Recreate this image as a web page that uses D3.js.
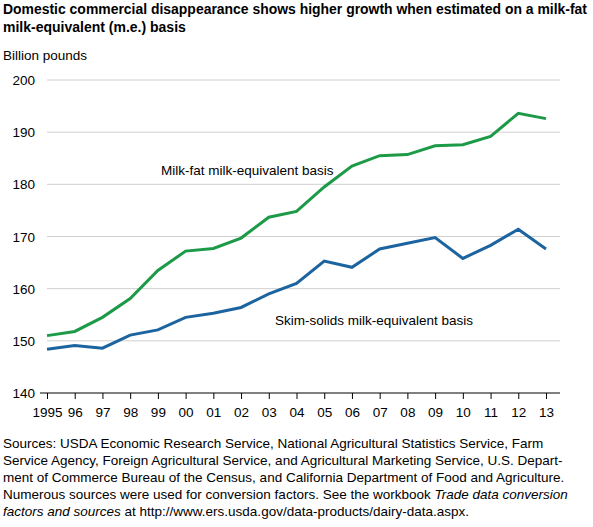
<!DOCTYPE html>
<html>
  <head>
    <meta charset="utf-8">
    <script src="https://d3js.org/d3.v7.min.js"></script>
    <style>
      body { margin: 0; font-family: Arial, "Liberation Sans", sans-serif; }
      text { font-family: Arial, "Liberation Sans", sans-serif; fill: #000; }
    </style>
  </head>
  <body>
    <svg width="593" height="527"></svg>
    <script>
      const years = ['1995','96','97','98','99','00','01','02','03','04','05','06','07','08','09','10','11','12','13'];
      const milkFat = [151.0,151.8,154.5,158.1,163.5,167.2,167.7,169.7,173.7,174.8,179.5,183.5,185.5,185.7,187.4,187.6,189.2,193.6,192.6];
      const skimSolids = [148.4,149.1,148.6,151.1,152.1,154.5,155.3,156.4,159.0,161.0,165.3,164.1,167.6,168.7,169.8,165.8,168.3,171.4,167.6];
      const yTicks = [140,150,160,170,180,190,200];

      const svg = d3.select('svg');
      const x = d3.scalePoint().domain(years).range([47, 546]);
      const y = d3.scaleLinear().domain([140, 200]).range([393, 80]);

      svg.append('text').attr('x', 3).attr('y', 14).attr('font-size', 14).attr('font-weight', 'bold')
        .attr('textLength', 584).attr('lengthAdjust', 'spacingAndGlyphs')
        .text('Domestic commercial disappearance shows higher growth when estimated on a milk-fat');
      svg.append('text').attr('x', 3).attr('y', 32).attr('font-size', 14).attr('font-weight', 'bold')
        .text('milk-equivalent (m.e.) basis');
      svg.append('text').attr('x', 3).attr('y', 60).attr('font-size', 13.5).text('Billion pounds');

      svg.append('g').selectAll('line').data(yTicks.slice(1)).enter().append('line')
        .attr('x1', 47).attr('x2', 560).attr('y1', y).attr('y2', y)
        .attr('stroke', '#d0d0d0');
      svg.append('g').selectAll('text').data(yTicks).enter().append('text')
        .attr('x', 35).attr('y', d => y(d) + 5).attr('text-anchor', 'end').attr('font-size', 13.5)
        .text(d => d);

      const xAxis = svg.append('g').attr('transform', 'translate(0,393)')
        .call(d3.axisBottom(x).tickSize(6).tickSizeOuter(0));
      xAxis.select('.domain').attr('d', 'M40,0H560').attr('stroke', '#000');
      xAxis.selectAll('.tick line').attr('stroke', '#000');
      xAxis.selectAll('text').attr('font-size', 13.5).attr('dy', '1.1em').style('font-family', 'Arial, Liberation Sans, sans-serif');

      const line = d3.line().x((d, i) => x(years[i])).y(d => y(d));
      svg.append('path').datum(milkFat).attr('d', line).attr('fill', 'none')
        .attr('stroke', '#1d9a48').attr('stroke-width', 3);
      svg.append('path').datum(skimSolids).attr('d', line).attr('fill', 'none')
        .attr('stroke', '#1c64a0').attr('stroke-width', 3);

      svg.append('text').attr('x', 161).attr('y', 175).attr('font-size', 13.5).text('Milk-fat milk-equivalent basis');
      svg.append('text').attr('x', 275).attr('y', 325).attr('font-size', 13.5).text('Skim-solids milk-equivalent basis');

      const src = [
        'Sources: USDA Economic Research Service, National Agricultural Statistics Service, Farm',
        'Service Agency, Foreign Agricultural Service, and Agricultural Marketing Service, U.S. Depart-',
        'ment of Commerce Bureau of the Census, and California Department of Food and Agriculture.'
      ];
      const y0 = 448, dy = 17;
      src.forEach((s, i) => {
        svg.append('text').attr('x', 3).attr('y', y0 + i * dy).attr('font-size', 13.5).text(s);
      });
      const l4 = svg.append('text').attr('x', 3).attr('y', y0 + 3 * dy).attr('font-size', 13.5);
      l4.append('tspan').text('Numerous sources were used for conversion factors. See the workbook ');
      l4.append('tspan').attr('font-style', 'italic').text('Trade data conversion');
      const l5 = svg.append('text').attr('x', 3).attr('y', y0 + 4 * dy).attr('font-size', 13.5);
      l5.append('tspan').attr('font-style', 'italic').text('factors and sources');
      l5.append('tspan').text(' at http://www.ers.usda.gov/data-products/dairy-data.aspx.');
    </script>
  </body>
</html>
